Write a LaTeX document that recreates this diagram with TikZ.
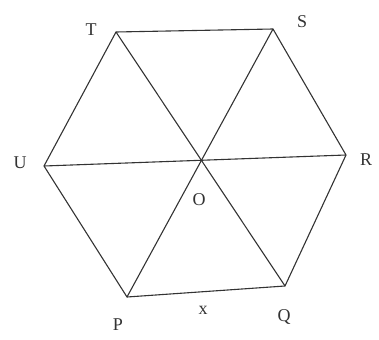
\documentclass[tikz,border=0pt]{standalone}
\usepackage{fontspec}
\setmainfont{Liberation Serif}
\begin{document}
\begin{tikzpicture}[x=1pt, y=-1pt, line width=1.1pt, color=black!80,
    lbl/.style={font=\fontsize{18}{22}\selectfont}]

    \useasboundingbox (0,0) rectangle (379,339);

    \coordinate (T) at (116,32);
    \coordinate (S) at (273,29);
    \coordinate (R) at (346,155);
    \coordinate (Q) at (285,286);
    \coordinate (P) at (127,297);
    \coordinate (U) at (44,166);
    \coordinate (O) at (201,161);

    \draw (T) -- (S) -- (R) -- (Q) -- (P) -- (U) -- cycle;

    \draw (T) -- (Q);
    \draw (S) -- (P);
    \draw (U) -- (R);

    \node[lbl] (lT) at (91,30) {T};
    \node[lbl] (lS) at (302,22) {S};
    \node[lbl] (lR) at (366,160) {R};
    \node[lbl] (lQ) at (284,317) {Q};
    \node[lbl] (lP) at (118,325) {P};
    \node[lbl] (lU) at (20,163) {U};
    \node[lbl] (lO) at (199,200) {O};
    \node[lbl] (lx) at (203,310) {x};

  \end{tikzpicture}
\end{document}
